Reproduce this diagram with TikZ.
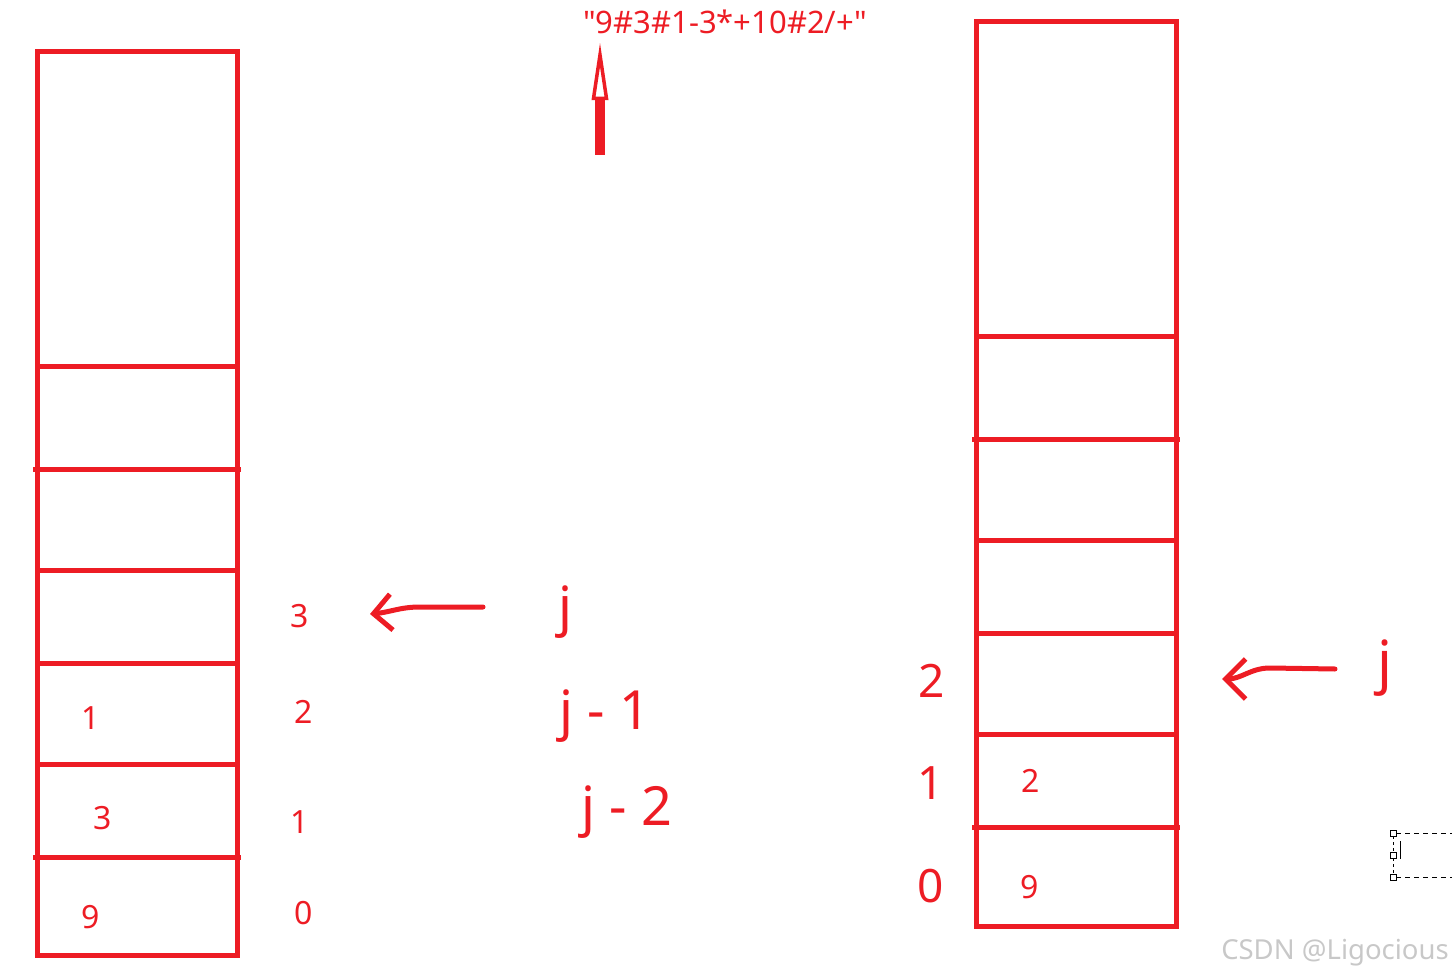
\documentclass[tikz,border=0pt]{standalone}
\usepackage{fontspec}
\setmainfont{Noto Sans}
\newfontfamily\exprfont{Noto Sans}[Ligatures=TeXOff]
\usetikzlibrary{arrows.meta,positioning}
\definecolor{paintred}{RGB}{237,28,36}
\definecolor{wmgray}{RGB}{200,200,200}

\begin{document}
\begin{tikzpicture}[x=1pt,y=-1pt,
    wall/.style={draw=paintred,line width=5pt},
    stackbox/.style={wall,minimum width=200pt,minimum height=904pt,inner sep=0pt},
    cell/.style={text=paintred,font=\fontsize{32}{38}\selectfont,inner sep=0pt},
    hand/.style={text=paintred,font=\fontsize{54}{60}\selectfont,inner sep=0pt},
    stroke/.style={draw=paintred,line width=5pt,line cap=round,line join=round},
    handle/.style={draw=black,line width=0.8pt,fill=white,minimum size=6pt,inner sep=0pt}]
  \useasboundingbox (0,0) rectangle (1452,979);
  % left stack
  \node[stackbox] (stkA) at (137,503.5) {};
  \foreach \y in {366,570,663,764} \draw[wall] (37,\y) -- (237,\y);
  \foreach \y in {469,857} \draw[wall] (33,\y) -- (241,\y);
  \node[cell] (a2) at (91,718) {1};
  \node[cell] (a1) at (103,818) {3};
  \node[cell] (a0) at (91,917) {9};
  \node[cell] (ia3) at (300,616) {3};
  \node[cell] (ia2) at (304,712) {2};
  \node[cell] (ia1) at (300,822) {1};
  \node[cell] (ia0) at (304,913) {0};
  % right stack
  \node[stackbox] (stkB) at (1076.5,474) {};
  \foreach \y in {336,540,633,734} \draw[wall] (976.5,\y) -- (1176.5,\y);
  \foreach \y in {439,827} \draw[wall] (972,\y) -- (1180,\y);
  \node[cell] (b1) at (1031,781) {2};
  \node[cell] (b0) at (1030,887) {9};
  % expression and pointer
  \node[cell,font=\exprfont\fontsize{31}{36}\selectfont] (expr) at (725,22) {"9\#3\#1-3*+10\#2/+"};
  \coordinate (ptr) at (600,155);
  \draw[paintred,line width=10pt,shorten >=8pt,
    -{Triangle[open,length=58pt,width=16pt,line width=3.5pt]}] (ptr) -- (ptr |- expr.south);
  % handwritten marks
  \node[hand] (jA) at (565,612) {j};
  \node[hand] (jA1) at (605,716) {j - 1};
  \node[hand] (jA2) at (627,812) {j - 2};
  \coordinate (tailA) at (483,607);
  \coordinate (tipA) at (370,614);
  \draw[stroke,-{Straight Barb[length=18pt,width=36pt]}] (tailA) -- (420,607) to[out=180,in=5] (tipA);
  \node[hand,font=\fontsize{46}{52}\selectfont] (hB2) at (932,681) {2};
  \node[hand,font=\fontsize{46}{52}\selectfont] (hB1) at (931,783) {1};
  \node[hand,font=\fontsize{46}{52}\selectfont] (hB0) at (931,886) {0};
  \node[hand,font=\fontsize{58}{64}\selectfont] (jB) at (1385,668) {j};
  \coordinate (tailB) at (1335,669);
  \coordinate (tipB) at (1222,679);
  \draw[stroke,-{Straight Barb[length=20pt,width=40pt]}] (tailB) -- (1270,668) to[out=180,in=0] (tipB);
  % selection handles
  \node[handle] (h1) at (1393,833) {};
  \node[handle] (h2) at (1393,855) {};
  \node[handle] (h3) at (1393,877) {};
  \draw[black,line width=0.8pt,dashed] (h1) -- (h2) -- (h3);
  \draw[black,line width=0.8pt,dash pattern=on 5pt off 4pt] (h1.east) -- (1452,833);
  \draw[black,line width=0.8pt,dash pattern=on 5pt off 4pt] (h3.east) -- (1452,877);
  \draw[black,line width=1pt] (1400,841) -- (1400,859);
  % watermark
  \node[text=wmgray,font=\fontsize{27.5}{32}\selectfont,inner sep=0pt] (wm) at (1335,953) {CSDN @Ligocious};
\end{tikzpicture}
\end{document}
